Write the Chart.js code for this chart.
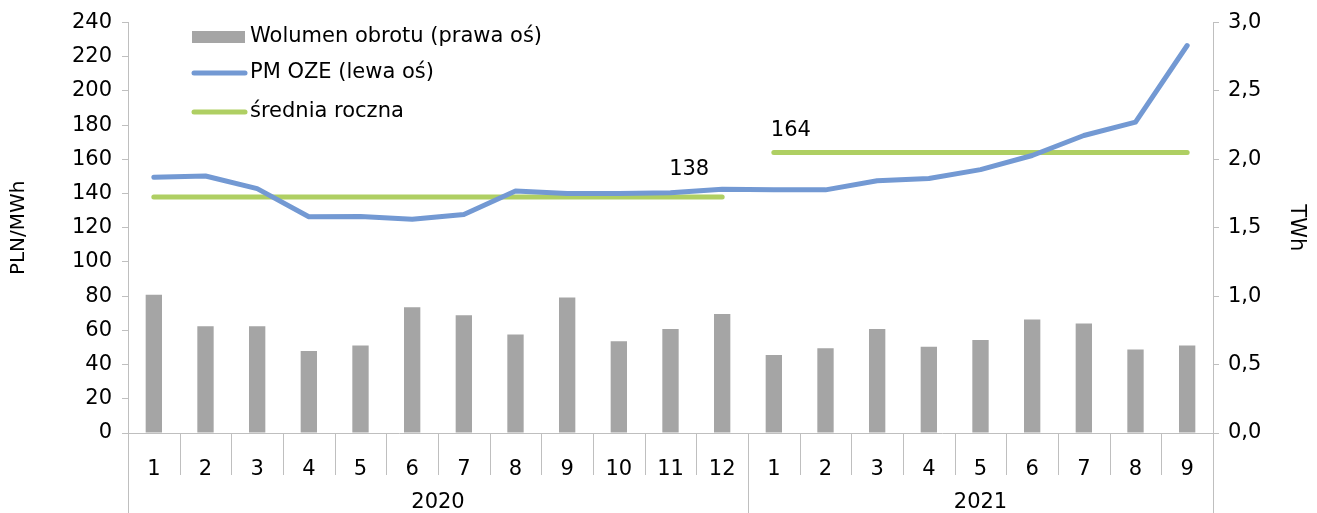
<!DOCTYPE html>
<html>
<head>
<meta charset="utf-8">
<script src="https://cdn.jsdelivr.net/npm/chart.js@4/dist/chart.umd.min.js"></script>
<style>
  html, body { margin: 0; padding: 0; background: #fff; }
  #wrap { width: 1317px; height: 513px; }
</style>
</head>
<body>
<div id="wrap"><canvas id="myChart"></canvas></div>
<script>
let months = ['1', '2', '3', '4', '5', '6', '7', '8', '9', '10', '11', '12',
    '1', '2', '3', '4', '5', '6', '7', '8', '9'];
let years = ['2020', '2021'];
let yearLengths = [12, 9];

let volume = [1.01, 0.78, 0.78, 0.60, 0.64, 0.92, 0.86, 0.72, 0.99, 0.67, 0.76, 0.87,
    0.57, 0.62, 0.76, 0.63, 0.68, 0.83, 0.80, 0.61, 0.64];
let price = [149.5, 150.3, 142.9, 126.5, 126.6, 125.0, 127.8, 141.5, 140.0, 140.0, 140.5, 142.5,
    142.2, 142.2, 147.5, 148.8, 154.0, 162.3, 174.0, 181.8, 226.6];
let avg2020 = [138, 138, 138, 138, 138, 138, 138, 138, 138, 138, 138, 138,
    null, null, null, null, null, null, null, null, null];
let avg2021 = [null, null, null, null, null, null, null, null, null, null, null, null,
    164, 164, 164, 164, 164, 164, 164, 164, 164];

let fontFamily = "'DejaVu Sans', Verdana, sans-serif";
let fontSize = 21;
let axisColor = '#bfbfbf';

// legend drawn inside the plot area, top left
let insideLegend = {
    id: 'insideLegend',
    afterDraw(chart) {
        let ctx = chart.ctx;
        let rows = [
            { ds: 0, y: 37, type: 'box' },
            { ds: 1, y: 73, type: 'line' },
            { ds: 2, y: 112, type: 'line' }
        ];
        ctx.save();
        ctx.font = fontSize + 'px ' + fontFamily;
        ctx.textBaseline = 'middle';
        for (let i = 0; i < rows.length; i++) {
            let ds = chart.data.datasets[rows[i].ds];
            if (rows[i].type === 'box') {
                ctx.fillStyle = ds.backgroundColor;
                ctx.fillRect(192, rows[i].y - 6, 53, 12);
            } else {
                ctx.strokeStyle = ds.borderColor;
                ctx.lineWidth = 5;
                ctx.lineCap = 'round';
                ctx.beginPath();
                ctx.moveTo(194, rows[i].y);
                ctx.lineTo(245, rows[i].y);
                ctx.stroke();
            }
            ctx.fillStyle = '#000';
            ctx.fillText(ds.label, 250, rows[i].y);
        }
        ctx.restore();
    }
};

// year row and category separators under the x axis
let yearAxis = {
    id: 'yearAxis',
    afterDraw(chart) {
        let ctx = chart.ctx;
        let xs = chart.scales.x;
        let step = (xs.right - xs.left) / months.length;
        let groupEdges = [0];
        let acc = 0;
        for (let i = 0; i < yearLengths.length; i++) {
            acc += yearLengths[i];
            groupEdges.push(acc);
        }
        ctx.save();
        ctx.strokeStyle = axisColor;
        ctx.lineWidth = 1;
        for (let i = 0; i <= months.length; i++) {
            let x = Math.round(xs.left + i * step) + 0.5;
            let end = groupEdges.indexOf(i) >= 0 ? chart.height : xs.top + 42;
            ctx.beginPath();
            ctx.moveTo(x, xs.top);
            ctx.lineTo(x, end);
            ctx.stroke();
        }
        ctx.font = fontSize + 'px ' + fontFamily;
        ctx.fillStyle = '#000';
        ctx.textAlign = 'center';
        ctx.textBaseline = 'middle';
        for (let i = 0; i < years.length; i++) {
            let x0 = xs.left + groupEdges[i] * step;
            let x1 = xs.left + groupEdges[i + 1] * step;
            ctx.fillText(years[i], (x0 + x1) / 2, 503);
        }
        ctx.restore();
    }
};

// value labels for the yearly averages
let avgLabels = {
    id: 'avgLabels',
    afterDatasetsDraw(chart) {
        let ctx = chart.ctx;
        ctx.save();
        ctx.font = fontSize + 'px ' + fontFamily;
        ctx.fillStyle = '#000';
        ctx.textAlign = 'center';
        ctx.textBaseline = 'middle';
        let p1 = chart.getDatasetMeta(2).data[11];
        ctx.fillText(String(avg2020[11]), p1.x - 33, p1.y - 27);
        let p2 = chart.getDatasetMeta(3).data[12];
        ctx.fillText(String(avg2021[12]), p2.x + 17, p2.y - 22);
        ctx.restore();
    }
};

let ctx = document.getElementById('myChart').getContext('2d');

new Chart(ctx, {
    data: {
        labels: months,
        datasets: [{
            type: 'bar',
            label: 'Wolumen obrotu (prawa oś)',
            data: volume,
            yAxisID: 'y1',
            backgroundColor: '#a5a5a5',
            barPercentage: 0.62,
            categoryPercentage: 0.51,
            order: 3
        }, {
            type: 'line',
            label: 'PM OZE (lewa oś)',
            data: price,
            yAxisID: 'y',
            borderColor: '#7399d3',
            borderWidth: 5,
            pointRadius: 0,
            borderCapStyle: 'round',
            borderJoinStyle: 'round',
            order: 1
        }, {
            type: 'line',
            label: 'średnia roczna',
            data: avg2020,
            yAxisID: 'y',
            borderColor: '#afcf63',
            borderWidth: 5,
            pointRadius: 0,
            borderCapStyle: 'round',
            spanGaps: false,
            order: 2
        }, {
            type: 'line',
            label: 'średnia roczna',
            data: avg2021,
            yAxisID: 'y',
            borderColor: '#afcf63',
            borderWidth: 5,
            pointRadius: 0,
            borderCapStyle: 'round',
            spanGaps: false,
            order: 2
        }]
    },
    options: {
        responsive: true,
        maintainAspectRatio: false,
        animation: false,
        layout: { padding: { left: 0, right: 0, top: 22, bottom: 0 } },
        plugins: {
            legend: { display: false },
            tooltip: { enabled: false }
        },
        scales: {
            x: {
                offset: true,
                grid: { display: false },
                border: { color: axisColor },
                ticks: {
                    color: '#000',
                    font: { family: fontFamily, size: fontSize },
                    padding: 16,
                    maxRotation: 0,
                    autoSkip: false
                },
                afterFit(scale) { scale.height = 80; }
            },
            y: {
                position: 'left',
                min: 0,
                max: 240,
                grid: { drawOnChartArea: false, tickLength: 6, color: axisColor },
                border: { color: axisColor },
                ticks: {
                    stepSize: 20,
                    color: '#000',
                    padding: 10,
                    font: { family: fontFamily, size: fontSize }
                },
                title: {
                    display: true,
                    text: 'PLN/MWh',
                    color: '#000',
                    font: { family: fontFamily, size: 20 },
                    padding: { top: 7, bottom: 0 }
                },
                afterFit(scale) { scale.width = 128; }
            },
            y1: {
                position: 'right',
                min: 0,
                max: 3,
                grid: { drawOnChartArea: false, tickLength: 6, color: axisColor },
                border: { color: axisColor },
                ticks: {
                    stepSize: 0.5,
                    color: '#000',
                    padding: 9,
                    font: { family: fontFamily, size: fontSize },
                    callback: function (value) {
                        return value.toFixed(1).replace('.', ',');
                    }
                },
                title: {
                    display: true,
                    text: 'TWh',
                    color: '#000',
                    font: { family: fontFamily, size: 21 },
                    padding: { top: 8, bottom: 0 }
                },
                afterFit(scale) { scale.width = 104; }
            }
        }
    },
    plugins: [insideLegend, yearAxis, avgLabels]
});
</script>
</body>
</html>
